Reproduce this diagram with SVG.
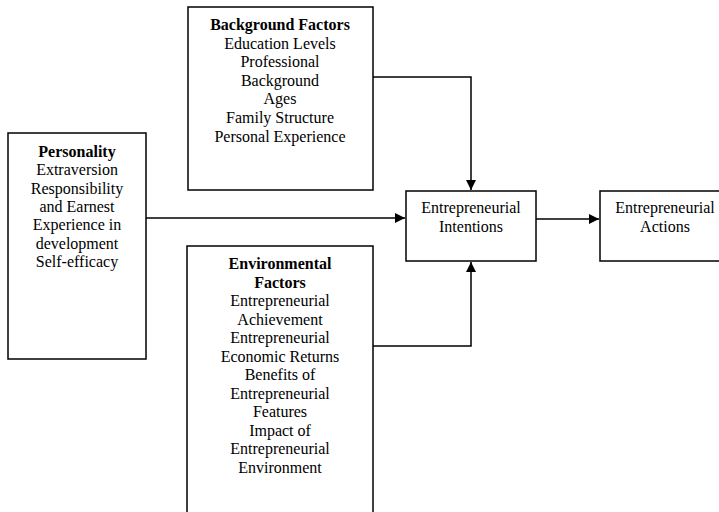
<svg xmlns="http://www.w3.org/2000/svg" width="719" height="512" viewBox="0 0 719 512">
  <style>
    .box { fill: #ffffff; stroke: #000000; stroke-width: 1.5; }
    .t { font-family: "Liberation Serif", "Times New Roman", serif; font-size: 16px; fill: #000000; text-anchor: middle; }
    .b { font-weight: bold; }
    .link { fill: none; stroke: #000000; stroke-width: 1.5; }
  </style>
  <defs>
    <marker id="arrow" viewBox="0 0 10 10" refX="10" refY="5" markerWidth="10" markerHeight="10" markerUnits="userSpaceOnUse" orient="auto">
      <path d="M0,0 L10,5 L0,10 Z" fill="#000000"/>
    </marker>
  </defs>
  <rect width="719" height="512" fill="#ffffff"/>

  <g id="connectors">
    <path class="link" d="M373,77 H471 V190" marker-end="url(#arrow)"/>
    <path class="link" d="M373,346 H471 V262" marker-end="url(#arrow)"/>
    <path class="link" d="M146,218 H405" marker-end="url(#arrow)"/>
    <path class="link" d="M536,219 H599" marker-end="url(#arrow)"/>
  </g>

  <g id="background-factors">
    <rect class="box" x="188" y="7" width="185" height="183"/>
    <text class="t b" x="280" y="30">Background Factors</text>
    <text class="t" x="280" y="49">Education Levels</text>
    <text class="t" x="280" y="67">Professional</text>
    <text class="t" x="280" y="86">Background</text>
    <text class="t" x="280" y="104">Ages</text>
    <text class="t" x="280" y="123">Family Structure</text>
    <text class="t" x="280" y="142">Personal Experience</text>
  </g>

  <g id="personality">
    <rect class="box" x="8" y="133" width="138" height="226"/>
    <text class="t b" x="77" y="157">Personality</text>
    <text class="t" x="77" y="175">Extraversion</text>
    <text class="t" x="77" y="194">Responsibility</text>
    <text class="t" x="77" y="212">and Earnest</text>
    <text class="t" x="77" y="230">Experience in</text>
    <text class="t" x="77" y="249">development</text>
    <text class="t" x="77" y="267">Self-efficacy</text>
  </g>

  <g id="environmental-factors">
    <rect class="box" x="187" y="246" width="186" height="280"/>
    <text class="t b" x="280" y="269">Environmental</text>
    <text class="t b" x="280" y="288">Factors</text>
    <text class="t" x="280" y="306">Entrepreneurial</text>
    <text class="t" x="280" y="325">Achievement</text>
    <text class="t" x="280" y="343">Entrepreneurial</text>
    <text class="t" x="280" y="362">Economic Returns</text>
    <text class="t" x="280" y="380">Benefits of</text>
    <text class="t" x="280" y="399">Entrepreneurial</text>
    <text class="t" x="280" y="417">Features</text>
    <text class="t" x="280" y="436">Impact of</text>
    <text class="t" x="280" y="454">Entrepreneurial</text>
    <text class="t" x="280" y="473">Environment</text>
  </g>

  <g id="entrepreneurial-intentions">
    <rect class="box" x="406" y="191" width="130" height="70"/>
    <text class="t" x="471" y="213">Entrepreneurial</text>
    <text class="t" x="471" y="232">Intentions</text>
  </g>

  <g id="entrepreneurial-actions">
    <rect class="box" x="600" y="191" width="130" height="70"/>
    <text class="t" x="665" y="213">Entrepreneurial</text>
    <text class="t" x="665" y="232">Actions</text>
  </g>
</svg>
